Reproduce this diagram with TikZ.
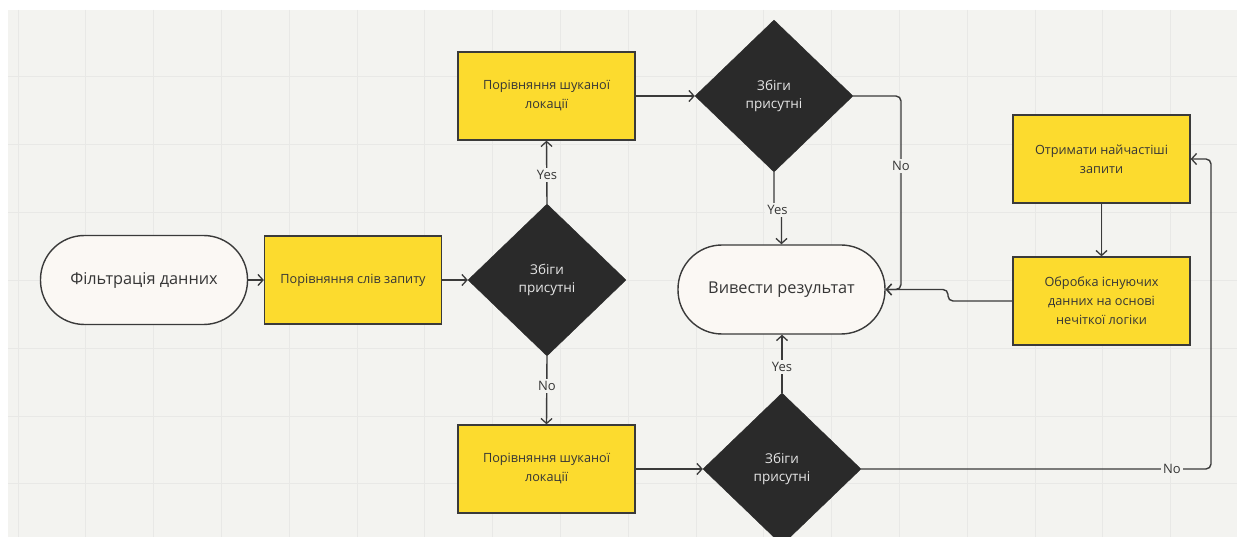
\documentclass[tikz,border=0pt]{standalone}
\usepackage{fontspec}
\setmainfont{Open Sans}
\usetikzlibrary{shapes.geometric,arrows.meta}
\definecolor{bg}{HTML}{F3F3F0}
\definecolor{gridc}{HTML}{E8E8E6}
\definecolor{linec}{HTML}{3A3A3A}
\definecolor{yel}{HTML}{FCDB2E}
\definecolor{dark}{HTML}{2A2A2A}
\definecolor{dtext}{HTML}{E6E6E6}
\definecolor{term}{HTML}{FBF8F4}
\definecolor{txt}{HTML}{363636}
\tikzset{
  terminal/.style={draw=linec, line width=1.4pt, fill=term, rounded corners=44pt,
    minimum width=207pt, minimum height=89pt, inner sep=0pt, text=txt,
    font=\fontsize{16.3}{19}\selectfont},
  procbox/.style={draw=linec, line width=1.3pt, fill=yel, minimum width=177pt,
    minimum height=88pt, inner sep=0pt, align=center, text=txt,
    font=\fontsize{12.7}{19}\selectfont},
  decision/.style={diamond, fill=dark, draw=dark, minimum width=158pt, minimum height=152pt,
    inner sep=0pt, align=center, text=dtext, font=\fontsize{13.5}{18}\selectfont},
  conn/.style={draw=linec, line width=1.4pt, rounded corners=5pt,
    -{Straight Barb[length=5pt,width=11pt,line width=1.3pt]}},
  lbl/.style={fill=bg, inner sep=2pt, text=txt, font=\fontsize{13}{15}\selectfont}
}
\begin{document}
\begin{tikzpicture}[x=1pt,y=-1pt]
\useasboundingbox (0,0) rectangle (1237,537);
\clip (0,0) rectangle (1237,537);
\fill[white] (0,0) rectangle (1237,537);
\fill[bg] (8,10) rectangle (1237,537);
\foreach \i in {0,...,18} {
  \draw[gridc, line width=1pt] (18+67.8*\i,10) -- (18+67.8*\i,537);
}
\foreach \j in {1,...,7} {
  \draw[gridc, line width=1pt] (8,9.2+67.8*\j) -- (1237,9.2+67.8*\j);
}

\node[terminal] (start) at (144,280) {Фільтрація данних};
\node[procbox] (cmp) at (353,280) {Порівняння слів запиту};
\node[decision] (d1) at (547,280) {Збіги\\присутні};
\node[procbox] (loctop) at (546.5,96) {Порівняння шуканої\\локації};
\node[decision] (d2) at (774,96) {Збіги\\присутні};
\node[terminal] (out) at (781.5,289.5) {Вивести результат};
\node[procbox] (locbot) at (546.5,469) {Порівняння шуканої\\локації};
\node[decision] (d3) at (782,469) {Збіги\\присутні};
\node[procbox] (freq) at (1101.5,159) {Отримати найчастіші\\запити};
\node[procbox] (fuzzy) at (1101.5,301) {Обробка існуючих\\данних на основі\\нечіткої логіки};

\coordinate (yesjog1) at (774,210);
\coordinate (yesjog2) at (781.5,210);
\coordinate (nocorner1) at (901,96);
\coordinate (nocorner2) at (901,289.5);
\coordinate (fz1) at (948,301);
\coordinate (fz2) at (948,289.5);
\coordinate (nb1) at (1211,469);
\coordinate (nb2) at (1211,159);

\draw[conn] (start.east) -- (cmp.west);
\draw[conn] (cmp.east) -- (d1.west);
\draw[conn] (d1.north) -- (loctop.south);
\node[lbl] at (547,175) {Yes};
\draw[conn] (d1.south) -- (locbot.north);
\node[lbl] at (547,386) {No};
\draw[conn] (loctop.east) -- (d2.west);
\draw[conn] (locbot.east) -- (d3.west);
\draw[conn] (d2.south) -- (yesjog1) -- (yesjog2) -- (out.north);
\node[lbl] at (777.5,210) {Yes};
\draw[conn] (d3.north) -- (d3.north |- out.south);
\node[lbl] at (782,367) {Yes};
\draw[conn] (d2.east) -- (nocorner1) -- (nocorner2) -- (out.east);
\node[lbl] at (901,166) {No};
\draw[conn] (fuzzy.west) -- (fz1) -- (fz2) -- (out.east);
\draw[conn] (freq.south) -- (fuzzy.north);
\draw[conn] (d3.east) -- (nb1) -- (nb2) -- (freq.east);
\node[lbl] at (1172,469) {No};
\end{tikzpicture}
\end{document}
